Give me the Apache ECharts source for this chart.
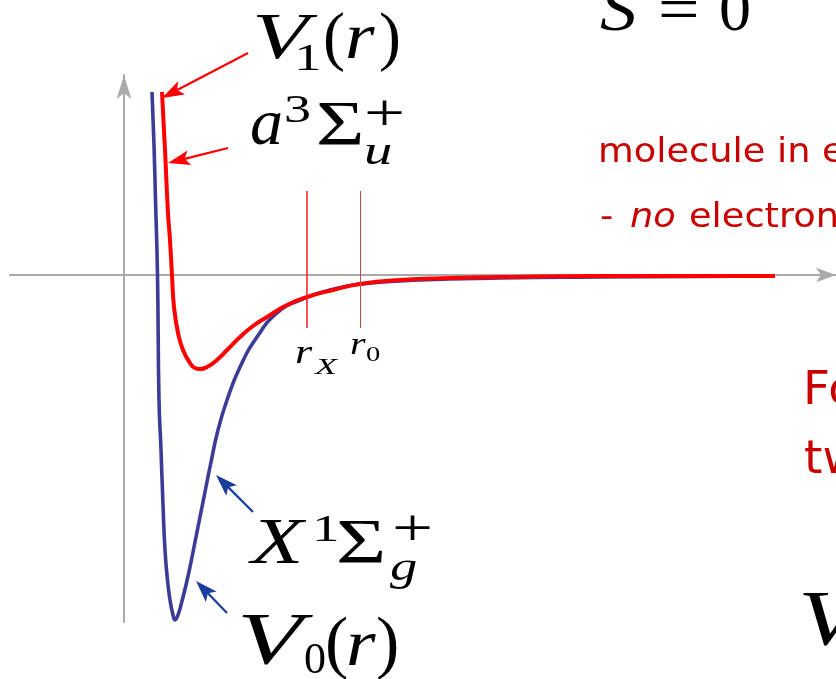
<!DOCTYPE html>
<html>
<head>
<meta charset="utf-8">
<script src="https://cdn.jsdelivr.net/npm/echarts@6/dist/echarts.min.js"></script>
<style>
  html, body { margin: 0; padding: 0; background: #fff; }
  #chart { width: 836px; height: 679px; }
</style>
</head>
<body>
<div id="chart"></div>
<script>
// Singlet ground state X¹Σg⁺ (V0) and triplet a³Σu⁺ (V1) potential curves, arbitrary units
const rSinglet = [0.28, 0.30, 0.315, 0.335, 0.35, 0.37, 0.39, 0.41, 0.435, 0.46, 0.49, 0.51, 0.54, 0.58, 0.62, 0.66, 0.71, 0.76, 0.81, 0.86, 0.94, 1.03, 1.16, 1.33, 1.53, 1.76, 2.06, 2.36, 2.96, 3.76, 4.76, 5.76, 6.46];
const vSinglet = [1.83, 1.30, 0.75, 0.0, -1.25, -1.75, -2.30, -2.75, -3.05, -3.25, -3.40, -3.45, -3.40, -3.26, -3.10, -2.92, -2.67, -2.42, -2.17, -1.92, -1.55, -1.25, -0.92, -0.62, -0.38, -0.25, -0.15, -0.09, -0.05, -0.03, -0.02, -0.015, -0.01];

const rTriplet = [0.38, 0.41, 0.44, 0.46, 0.48, 0.50, 0.54, 0.59, 0.66, 0.71, 0.76, 0.83, 0.93, 1.04, 1.16, 1.29, 1.43, 1.63, 1.83, 2.09, 2.36, 2.76, 3.26, 3.76, 4.76, 5.76, 6.51];
const vTriplet = [1.83, 1.25, 0.62, 0.35, 0.0, -0.32, -0.58, -0.75, -0.88, -0.93, -0.94, -0.92, -0.85, -0.74, -0.62, -0.51, -0.42, -0.30, -0.22, -0.15, -0.09, -0.05, -0.03, -0.02, -0.01, -0.01, -0.01];

// characteristic radii marked on the r axis
const rX = 1.83;
const r0 = 2.36;
const markerSpan = [-0.53, 0.84];

const singletData = rSinglet.map((r, i) => [r, vSinglet[i]]);
const tripletData = rTriplet.map((r, i) => [r, vTriplet[i]]);

const SERIF = 'Liberation Serif';
const SANS = 'DejaVu Sans';
const RED_TEXT = '#c80000';

// text placed by its baseline; sx widens the glyphs
function T(str, x, base, size, opt) {
  opt = opt || {};
  const fam = opt.family || SERIF;
  return {
    type: 'text', x: x, y: base - 0.34 * size, z: 100,
    scaleX: opt.sx || 1,
    style: {
      text: str,
      font: (opt.italic ? 'italic ' : '') + size + 'px "' + fam + '"',
      fill: opt.color || '#000',
      align: 'left', verticalAlign: 'middle'
    }
  };
}

// annotation arrow from tail to tip
function arrow(tail, tip, color) {
  const dx = tip[0] - tail[0], dy = tip[1] - tail[1];
  const L = Math.hypot(dx, dy), ux = dx / L, uy = dy / L;
  const hl = 22, hw = 7.5;
  const bx = tip[0] - ux * hl, by = tip[1] - uy * hl;
  const nx = tip[0] - ux * hl * 0.78, ny = tip[1] - uy * hl * 0.78;
  return [
    { type: 'line', z: 90, shape: { x1: tail[0], y1: tail[1], x2: nx, y2: ny },
      style: { stroke: color, lineWidth: 2.2 } },
    { type: 'polygon', z: 91, shape: { points: [
        [tip[0], tip[1]],
        [bx - uy * hw, by + ux * hw],
        [nx, ny],
        [bx + uy * hw, by - ux * hw]
      ] }, style: { fill: color } }
  ];
}

const RED_SX = 1.08;

const graphics = [].concat(
  // V1(r)
  T('V', 252, 63, 66, { italic: true, sx: 1.4 }),
  T('1', 294, 73, 38, { sx: 1.45 }),
  T('(', 323, 63, 66),
  T('r', 345, 63, 66, { italic: true, sx: 1.15 }),
  T(')', 379, 63, 66),

  // a3 Sigma u +
  T('a', 250, 149, 66, { italic: true }),
  T('3', 284, 125, 40, { sx: 1.35 }),
  T('Σ', 316, 150, 64, { sx: 1.3 }),
  T('u', 364, 167, 42, { italic: true, sx: 1.35 }),
  T('+', 364, 134, 52, { sx: 1.4 }),

  // X1 Sigma g +
  T('X', 251, 568, 66, { italic: true, sx: 1.3 }),
  T('1', 312, 544, 38, { sx: 1.45 }),
  T('Σ', 336, 568, 64, { sx: 1.35 }),
  T('g', 390, 583, 42, { italic: true, sx: 1.3 }),
  T('+', 392, 549, 52, { sx: 1.4 }),

  // V0(r)
  T('V', 237, 670, 74, { italic: true, sx: 1.45 }),
  T('0', 304, 676, 44),
  T('(', 325, 670, 70),
  T('r', 346, 670, 66, { italic: true, sx: 1.15 }),
  T(')', 376, 670, 70),

  // radius labels
  T('r', 295, 366, 34, { italic: true, sx: 1.3 }),
  T('X', 315, 376, 24, { italic: true, sx: 1.5 }),
  T('r', 350, 356, 32, { italic: true, sx: 1.25 }),
  T('0', 366, 363, 22, { sx: 1.3 }),

  // side text
  T('S', 600, 35, 64, { italic: true, sx: 1.15 }),
  T('=', 658, 35, 64, { sx: 1.15 }),
  T('0', 719, 35, 64),
  T('molecule in e', 598, 165, 34, { family: SANS, color: RED_TEXT, sx: RED_SX }),
  T('-', 600, 230, 34, { family: SANS, color: RED_TEXT, sx: RED_SX }),
  T('no', 630, 230, 34, { family: SANS, color: RED_TEXT, italic: true, sx: RED_SX }),
  T('electron', 689, 230, 34, { family: SANS, color: RED_TEXT, sx: RED_SX }),
  T('Fo', 803, 408, 47, { family: SANS, color: RED_TEXT }),
  T('tw', 804, 477, 47, { family: SANS, color: RED_TEXT }),
  T('V', 798, 650, 78, { italic: true, sx: 1.3 }),

  arrow([248, 53], [162, 98], '#ff0000'),
  arrow([228, 148], [168, 163], '#ff0000'),
  arrow([253, 512], [216, 475], '#1a3c9c'),
  arrow([227, 613], [196, 581], '#1a3c9c')
);

const axisLine = (size) => ({
  onZero: true,
  symbol: ['none', 'arrow'],
  symbolSize: size,
  lineStyle: { color: '#aaaaaa', width: 2 }
});

const chart = echarts.init(document.getElementById('chart'), null, { renderer: 'canvas' });
chart.setOption({
  animation: false,
  backgroundColor: '#ffffff',
  grid: { left: 10, right: 0, top: 75, bottom: 57, containLabel: false },
  xAxis: {
    type: 'value', min: -1.14, max: 7.12,
    axisLine: axisLine([11, 20]),
    axisTick: { show: false }, axisLabel: { show: false }, splitLine: { show: false }
  },
  yAxis: {
    type: 'value', min: -3.47, max: 2.0,
    axisLine: axisLine([11, 24]),
    axisTick: { show: false }, axisLabel: { show: false }, splitLine: { show: false }
  },
  series: [
    {
      name: 'V0', type: 'line', data: singletData, showSymbol: false, clip: false,
      smooth: 0.5, z: 3,
      lineStyle: { color: '#3c3c98', width: 3.6 }
    },
    {
      name: 'V1', type: 'line', data: tripletData, showSymbol: false, clip: false,
      smooth: 0.5, z: 4,
      lineStyle: { color: '#ff0000', width: 4 },
      markLine: {
        silent: true, symbol: ['none', 'none'], label: { show: false }, animation: false,
        data: [
          [{ coord: [rX, markerSpan[0]], lineStyle: { color: '#ff1a1a', width: 1.5, type: 'solid' } },
           { coord: [rX, markerSpan[1]] }],
          [{ coord: [r0, markerSpan[0]], lineStyle: { color: '#c84848', width: 1, type: 'solid' } },
           { coord: [r0, markerSpan[1]] }]
        ]
      }
    }
  ],
  graphic: graphics
});
</script>
</body>
</html>
